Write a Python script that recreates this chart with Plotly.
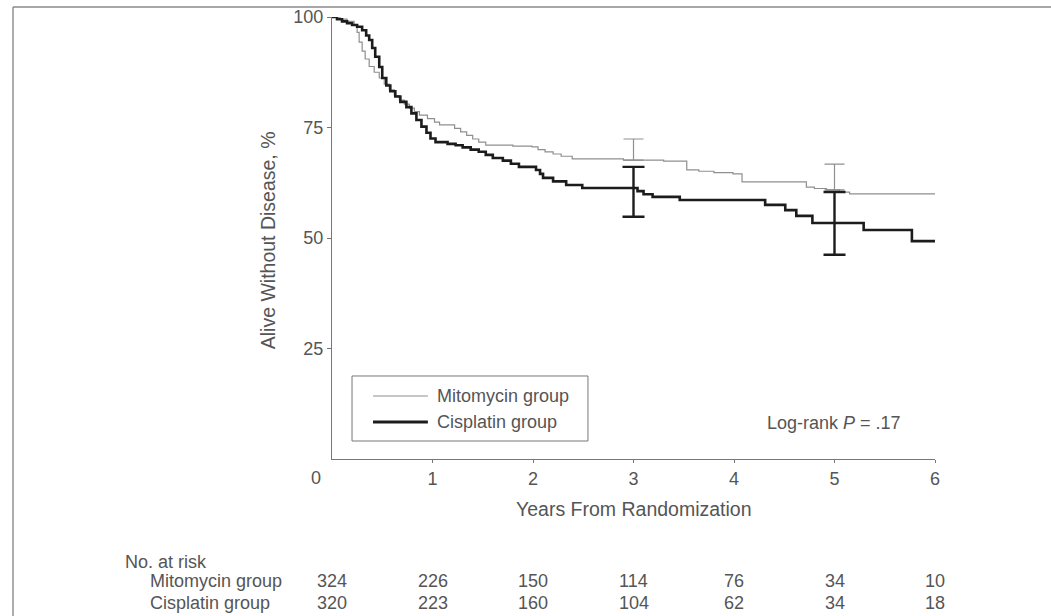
import plotly.graph_objects as go

# Kaplan-Meier estimates, years from randomization vs. % alive without disease
mito_years = [0, 0.08, 0.15, 0.22, 0.25, 0.27, 0.3, 0.33, 0.37, 0.42, 0.47, 0.52, 0.57,
              0.62, 0.67, 0.72, 0.77, 0.82, 0.87, 0.95, 1.02, 1.07, 1.22, 1.28, 1.34, 1.4,
              1.46, 1.53, 1.8, 1.99, 2.05, 2.12, 2.2, 2.28, 2.39, 2.9, 3.3, 3.53, 3.65, 3.8,
              3.99, 4.08, 4.72, 4.8, 4.92, 5.05, 5.15, 6.0]
mito_surv = [100, 99.5, 99.0, 98.2, 96.5, 94.3, 92.3, 90.5, 88.8, 87.5, 86.2, 84.8, 83.5,
             82.2, 81.2, 80.3, 79.4, 78.6, 77.8, 77.0, 76.2, 75.6, 74.8, 74.0, 73.2, 72.4,
             71.7, 71.0, 70.8, 70.6, 70.0, 69.5, 69.0, 68.5, 67.9, 67.6, 67.4, 65.4, 65.1, 64.8,
             64.5, 62.7, 61.5, 61.2, 60.9, 60.4, 60.0, 60.0]

cis_years = [0, 0.05, 0.1, 0.15, 0.2, 0.25, 0.3, 0.34, 0.37, 0.4, 0.43, 0.47, 0.5, 0.54, 0.58,
             0.63, 0.68, 0.74, 0.79, 0.84, 0.89, 0.94, 0.98, 1.03, 1.15, 1.23, 1.3, 1.38, 1.46,
             1.53, 1.6, 1.7, 1.78, 1.86, 2.03, 2.07, 2.1, 2.2, 2.33, 2.49, 3.04, 3.1, 3.19,
             3.46, 4.31, 4.51, 4.62, 4.78, 5.29, 5.77, 6.0]
cis_surv = [100, 99.5, 99.0, 98.6, 98.2, 97.8, 97.0, 95.8, 94.8, 93.0, 91.0, 88.7, 86.2, 84.5, 83.2,
            82.0, 80.8, 79.6, 78.2, 76.7, 75.2, 73.8, 72.5, 71.7, 71.3, 71.0, 70.5, 70.0, 69.5,
            68.8, 68.1, 67.5, 66.8, 66.1, 65.4, 64.5, 63.6, 62.8, 62.0, 61.3, 60.6, 59.9, 59.3,
            58.6, 57.5, 56.3, 55.0, 53.4, 51.8, 49.3, 49.3]

# Confidence limits at 3 and 5 years (mitomycin: upper limit only)
ci_years = [3, 5]
mito_ci_est = [67.6, 60.9]
mito_ci_upper = [72.4, 66.7]
cis_ci_est = [61.3, 53.4]
cis_ci_upper = [66.1, 60.4]
cis_ci_lower = [54.8, 46.2]

# Numbers at risk
risk_years = [0, 1, 2, 3, 4, 5, 6]
mito_at_risk = [324, 226, 150, 114, 76, 34, 10]
cis_at_risk = [320, 223, 160, 104, 62, 34, 18]

group_names = ["Mitomycin group", "Cisplatin group"]
x_ticks = [1, 2, 3, 4, 5, 6]
y_ticks = [25, 50, 75, 100]

MITO_COLOR = "#8f8f8f"
CIS_COLOR = "#1c1c1c"
TEXT_COLOR = "#555555"
AXIS_COLOR = "#777777"
FONT = "Liberation Sans, Arial, sans-serif"
LABEL_SIZE = 18
TITLE_SIZE = 19.5

fig = go.Figure()

fig.add_trace(go.Scatter(
    x=mito_years, y=mito_surv, mode="lines", line_shape="hv",
    line=dict(color=MITO_COLOR, width=1.2), name=group_names[0], showlegend=False,
))
fig.add_trace(go.Scatter(
    x=cis_years, y=cis_surv, mode="lines", line_shape="hv",
    line=dict(color=CIS_COLOR, width=2.6), name=group_names[1], showlegend=False,
))

fig.add_trace(go.Scatter(
    x=ci_years, y=mito_ci_est, mode="markers",
    marker=dict(size=1, color="rgba(0,0,0,0)"),
    error_y=dict(type="data", symmetric=False,
                 array=[u - e for u, e in zip(mito_ci_upper, mito_ci_est)],
                 arrayminus=[0 for _ in mito_ci_est],
                 color=MITO_COLOR, thickness=1.2, width=10),
    showlegend=False, hoverinfo="skip",
))
fig.add_trace(go.Scatter(
    x=ci_years, y=cis_ci_est, mode="markers",
    marker=dict(size=1, color="rgba(0,0,0,0)"),
    error_y=dict(type="data", symmetric=False,
                 array=[u - e for u, e in zip(cis_ci_upper, cis_ci_est)],
                 arrayminus=[e - l for l, e in zip(cis_ci_lower, cis_ci_est)],
                 color=CIS_COLOR, thickness=2.4, width=11),
    showlegend=False, hoverinfo="skip",
))

annotations = []
shapes = []

# legend box drawn in paper coordinates
shapes.append(dict(type="rect", xref="paper", yref="paper", x0=0.0332, x1=0.4245,
                   y0=0.0407, y1=0.1878, line=dict(color="#777777", width=1)))
legend_rows = [(0.1425, MITO_COLOR, 1.2), (0.0837, CIS_COLOR, 2.8)]
for name, (yy, col, w) in zip(group_names, legend_rows):
    shapes.append(dict(type="line", xref="paper", yref="paper", x0=0.068, x1=0.159,
                       y0=yy, y1=yy, line=dict(color=col, width=w)))
    annotations.append(dict(text=name, xref="paper", yref="paper", x=0.17, y=yy,
                            xanchor="left", yanchor="middle", showarrow=False,
                            font=dict(size=LABEL_SIZE, color=TEXT_COLOR, family=FONT)))

# surrounding frame lines (top and left)
shapes.append(dict(type="line", xref="paper", yref="paper", x0=-0.529, x1=1.2,
                   y0=1.0226, y1=1.0226, line=dict(color="#8a8a8a", width=1.6)))
shapes.append(dict(type="line", xref="paper", yref="paper", x0=-0.529, x1=-0.529,
                   y0=1.0226, y1=-0.36, line=dict(color="#8a8a8a", width=1.4)))

annotations.append(dict(text="Log-rank <i>P</i> = .17", xref="x", yref="paper", x=4.99, y=0.081,
                        xanchor="center", yanchor="middle", showarrow=False,
                        font=dict(size=LABEL_SIZE, color=TEXT_COLOR, family=FONT)))

annotations.append(dict(text="0", xref="paper", yref="paper", x=-0.0265, y=-0.043,
                        xanchor="center", yanchor="middle", showarrow=False,
                        font=dict(size=LABEL_SIZE, color=TEXT_COLOR, family=FONT)))

annotations.append(dict(text="Alive Without Disease, %", xref="paper", yref="paper",
                        x=-0.106, y=0.495, textangle=-90, xanchor="center", yanchor="middle",
                        showarrow=False, font=dict(size=TITLE_SIZE, color=TEXT_COLOR, family=FONT)))
annotations.append(dict(text="Years From Randomization", xref="paper", yref="paper",
                        x=0.5, y=-0.113, xanchor="center", yanchor="middle",
                        showarrow=False, font=dict(size=TITLE_SIZE, color=TEXT_COLOR, family=FONT)))

# number-at-risk table
annotations.append(dict(text="No. at risk", xref="paper", yref="paper", x=-0.3466, y=-0.233,
                        xanchor="left", yanchor="middle", showarrow=False,
                        font=dict(size=LABEL_SIZE, color=TEXT_COLOR, family=FONT)))
for name, counts, yy in [(group_names[0], mito_at_risk, -0.276),
                         (group_names[1], cis_at_risk, -0.326)]:
    annotations.append(dict(text=name, xref="paper", yref="paper", x=-0.305, y=yy,
                            xanchor="left", yanchor="middle", showarrow=False,
                            font=dict(size=LABEL_SIZE, color=TEXT_COLOR, family=FONT)))
    for t, n in zip(risk_years, counts):
        annotations.append(dict(text=str(n), xref="x", yref="paper", x=t, y=yy,
                                xanchor="center", yanchor="middle", showarrow=False,
                                font=dict(size=LABEL_SIZE, color=TEXT_COLOR, family=FONT)))

fig.update_layout(
    width=1051, height=616,
    margin=dict(l=332, r=116, t=17, b=157, autoexpand=False),
    paper_bgcolor="white", plot_bgcolor="white",
    font=dict(family=FONT, size=LABEL_SIZE, color=TEXT_COLOR),
    xaxis=dict(range=[0, 6], tickvals=x_ticks, showgrid=False, zeroline=False,
               showline=True, linecolor=AXIS_COLOR, linewidth=1.2,
               ticks="outside", ticklen=3, tickcolor=AXIS_COLOR,
               tickfont=dict(size=LABEL_SIZE, color=TEXT_COLOR)),
    yaxis=dict(range=[0, 100], tickvals=y_ticks, showgrid=False, zeroline=False,
               showline=True, linecolor=AXIS_COLOR, linewidth=1.2,
               ticks="outside", ticklen=4, tickcolor=AXIS_COLOR,
               tickfont=dict(size=LABEL_SIZE, color=TEXT_COLOR)),
    annotations=annotations,
    shapes=shapes,
)

fig.write_html("out.html")
